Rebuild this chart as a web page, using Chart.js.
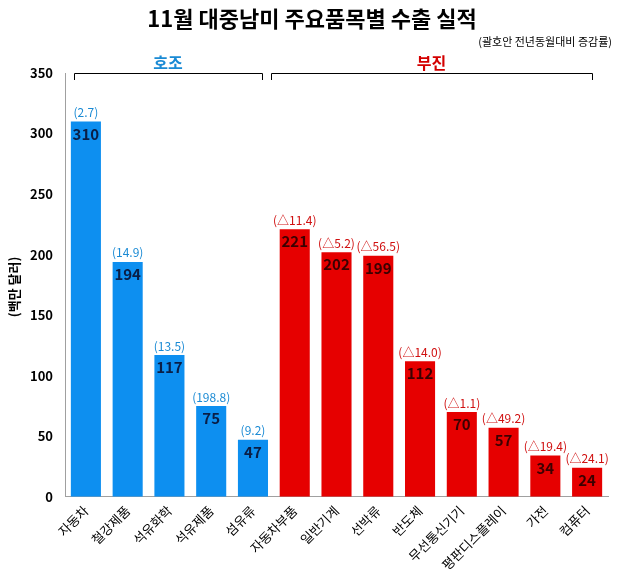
<!DOCTYPE html>
<html>
<head>
<meta charset="utf-8">
<script src="https://cdn.jsdelivr.net/npm/chart.js@4.4.0/dist/chart.umd.min.js"></script>
<style>
  html, body { margin: 0; padding: 0; background: #fff; }
  #wrap { width: 620px; height: 581px; }
</style>
</head>
<body>
<div id="wrap"><canvas id="myChart" width="620" height="581"></canvas></div>
<script>
const categories = ['자동차', '철강제품', '석유화학', '석유제품', '섬유류', '자동차부품', '일반기계', '선박류', '반도체', '무선통신기기', '평판디스플레이', '가전', '컴퓨터']
const exportValues = [310, 194, 117, 75, 47, 221, 202, 199, 112, 70, 57, 34, 24]
const changeLabels = ['(2.7)', '(14.9)', '(13.5)', '(198.8)', '(9.2)', '(△11.4)', '(△5.2)', '(△56.5)', '(△14.0)', '(△1.1)', '(△49.2)', '(△19.4)', '(△24.1)']
const groupNames = ['호조', '부진']
const groupRanges = [[0, 4], [5, 12]]
const yTicks = [0, 50, 100, 150, 200, 250, 300, 350]

const FONT = '"Noto Sans CJK KR", "Noto Sans", sans-serif'
const BLUE = '#0d8ff0'
const RED = '#e60000'

const isUp = i => i <= groupRanges[0][1]

const overlay = {
    id: 'overlay',
    afterDraw(chart) {
        const ctx = chart.ctx
        const y = chart.scales.y
        const meta = chart.getDatasetMeta(0)
        ctx.save()

        // title
        ctx.fillStyle = '#000'
        ctx.textAlign = 'center'
        ctx.textBaseline = 'middle'
        ctx.font = 'bold 22px ' + FONT
        ctx.fillText('11월 대중남미 주요품목별 수출 실적', 312, 19)
        ctx.font = '11px ' + FONT
        ctx.textAlign = 'right'
        ctx.fillText('(괄호안 전년동월대비 증감률)', 612, 42)

        // y axis title
        ctx.save()
        ctx.translate(14, (y.top + y.bottom) / 2 + 2)
        ctx.rotate(-Math.PI / 2)
        ctx.textAlign = 'center'
        ctx.font = 'bold 13px ' + FONT
        ctx.fillText('(백만 달러)', 0, 0)
        ctx.restore()

        // group brackets
        const by = y.getPixelForValue(350)
        const padL = [12, 24], padR = [9, 5]
        groupRanges.forEach((r, g) => {
            const x0 = Math.round(meta.data[r[0]].x - padL[g])
            const x1 = Math.round(meta.data[r[1]].x + padR[g])
            ctx.strokeStyle = '#000'
            ctx.lineWidth = 1
            ctx.beginPath()
            ctx.moveTo(x0 + 0.5, by + 7)
            ctx.lineTo(x0 + 0.5, by + 0.5)
            ctx.lineTo(x1 + 0.5, by + 0.5)
            ctx.lineTo(x1 + 0.5, by + 7)
            ctx.stroke()
            ctx.fillStyle = g === 0 ? '#1a8ad4' : '#d40000'
            ctx.font = 'bold 16px ' + FONT
            ctx.textAlign = 'center'
            ctx.textBaseline = 'bottom'
            ctx.fillText(groupNames[g], (x0 + x1) / 2, by - 2)
        })

        // bar labels
        meta.data.forEach((bar, i) => {
            ctx.textAlign = 'center'
            ctx.textBaseline = 'bottom'
            ctx.font = '12px ' + FONT
            ctx.fillStyle = isUp(i) ? '#1a8ad4' : '#d01010'
            ctx.fillText(changeLabels[i], bar.x, bar.y - 3)
            ctx.textBaseline = 'top'
            ctx.font = 'bold 15px ' + FONT
            ctx.fillStyle = isUp(i) ? '#0a1e46' : '#3c0000'
            ctx.fillText(exportValues[i], bar.x, bar.y + 5)
        })
        ctx.restore()
    }
}

new Chart(document.getElementById('myChart'), {
    type: 'bar',
    data: {
        labels: categories,
        datasets: [{
            data: exportValues,
            backgroundColor: categories.map((c, i) => isUp(i) ? BLUE : RED),
            barPercentage: 0.72,
            categoryPercentage: 1
        }]
    },
    options: {
        responsive: false,
        animation: false,
        layout: { padding: { top: 73, left: 22, right: 12, bottom: 6 } },
        plugins: {
            legend: { display: false },
            tooltip: { enabled: false }
        },
        scales: {
            y: {
                min: 0,
                max: 350,
                afterBuildTicks: axis => { axis.ticks = yTicks.map(v => ({ value: v })) },
                grid: { display: false, drawTicks: true, tickLength: 4 },
                border: { display: true, color: '#a0a0a0' },
                ticks: { color: '#000', font: { family: FONT, size: 13, weight: 'bold' }, padding: 8 }
            },
            x: {
                grid: { display: false, tickLength: 4 },
                border: { display: true, color: '#a0a0a0' },
                ticks: { color: '#000', minRotation: 45, maxRotation: 45, font: { family: FONT, size: 13 }, padding: 2 }
            }
        }
    },
    plugins: [overlay]
});
</script>
</body>
</html>
